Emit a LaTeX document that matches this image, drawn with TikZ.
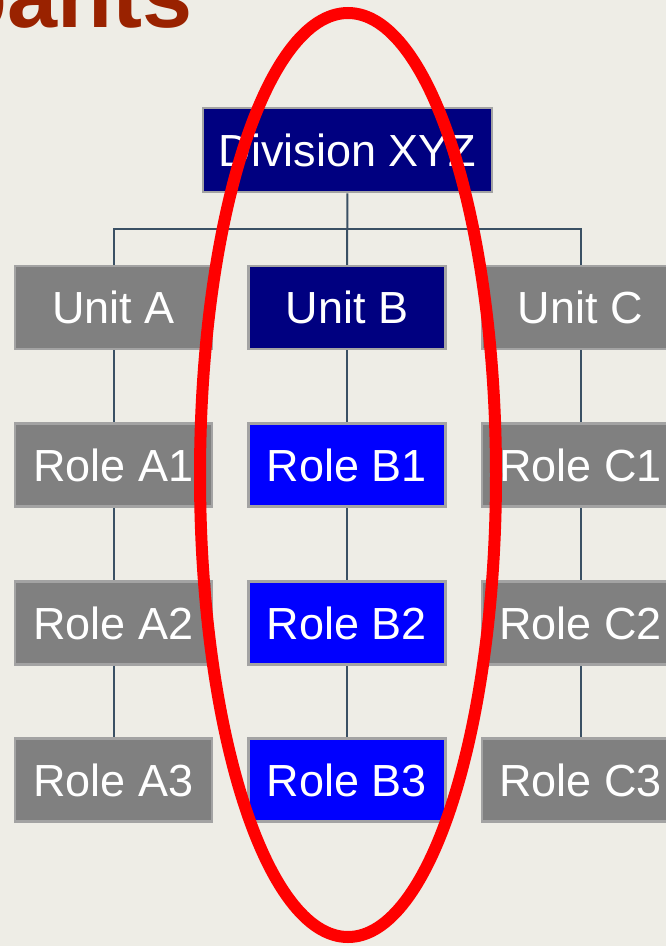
\documentclass[tikz,border=0pt]{standalone}
\usepackage{fontspec}
\setmainfont{Liberation Sans}
\definecolor{pagebg}{HTML}{EEEDE6}
\definecolor{titlered}{HTML}{992200}
\definecolor{linkcol}{HTML}{3A5064}
\definecolor{boxedge}{HTML}{A3A3A3}
\definecolor{greybox}{HTML}{808080}
\definecolor{navybox}{HTML}{000080}
\definecolor{bluebox}{HTML}{0000FF}
\definecolor{ringred}{HTML}{FF0000}
\pgfdeclarelayer{bg}
\pgfdeclarelayer{links}
\pgfsetlayers{bg,links,main}
\tikzset{
  orgbox/.style={draw=boxedge, line width=2.5pt, minimum width=197pt, minimum height=83pt,
    inner sep=0pt, text=white, font=\fontsize{45}{50}\selectfont},
  greyunit/.style={orgbox, fill=greybox},
  navyunit/.style={orgbox, fill=navybox},
  blueunit/.style={orgbox, fill=bluebox},
  link/.style={draw=linkcol, line width=2pt},
}
\begin{document}
\begin{tikzpicture}[x=1pt, y=-1pt]
\begin{pgfonlayer}{bg}
  \fill[pagebg] (0,0) rectangle (666,946);
\end{pgfonlayer}
\useasboundingbox (0,0) rectangle (666,946);

% heading fragment
\node[anchor=base east, inner sep=0pt, text=titlered,
      font=\bfseries\fontsize{90}{100}\selectfont] (title) at (193,27) {pants};

% top of the hierarchy
\node[navyunit, minimum width=289pt, minimum height=84pt] (div) at (347.5,150) {Division XYZ};

% units
\node[greyunit] (uA) at (113.5,307.5) {Unit A};
\node[navyunit] (uB) at (347,307.5) {Unit B};
\node[greyunit] (uC) at (580.5,307.5) {Unit C};

% roles
\node[greyunit] (rA1) at (113.5,465) {Role A1};
\node[greyunit] (rA2) at (113.5,623) {Role A2};
\node[greyunit] (rA3) at (113.5,780) {Role A3};
\node[blueunit] (rB1) at (347,465) {Role B1};
\node[blueunit] (rB2) at (347,623) {Role B2};
\node[blueunit] (rB3) at (347,780) {Role B3};
\node[greyunit] (rC1) at (580.5,465) {Role C1};
\node[greyunit] (rC2) at (580.5,623) {Role C2};
\node[greyunit] (rC3) at (580.5,780) {Role C3};

% connectors
\coordinate (bus) at (347,229);
\begin{pgfonlayer}{links}
  \path[link] (div) -- (uB);
  \path[link] (uA.north) |- (bus) -| (uC.north);
  \path[link] (uA) -- (rA1) -- (rA2) -- (rA3);
  \path[link] (uB) -- (rB1) -- (rB2) -- (rB3);
  \path[link] (uC) -- (rC1) -- (rC2) -- (rC3);
\end{pgfonlayer}

% highlight ring round the middle column
\draw[ringred, line width=12pt] (348,475) ellipse [x radius=148, y radius=462];
\end{tikzpicture}
\end{document}
